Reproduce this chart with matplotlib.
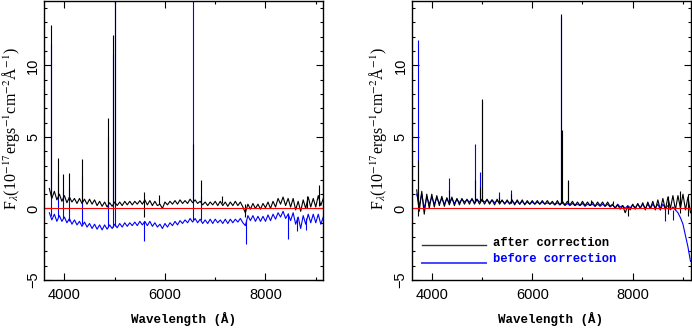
import matplotlib
matplotlib.use('Agg')
import matplotlib.pyplot as plt
from matplotlib.ticker import MultipleLocator
import numpy as np

# wavelength sampling of the continuum (Angstrom)
wave = np.arange(3700, 9151, 50)

# left panel continuum
left_after = [1.4, 0.7, 1.2, 0.6, 1.0, 0.5,
              0.9, 0.4, 0.8, 0.45, 0.7, 0.35, 0.7, 0.35, 0.65, 0.3,
              0.65, 0.3, 0.6, 0.2, 0.5, 0.15, 0.45, 0.1, 0.4, 0.15,
              0.45, 0.2, 0.45, 0.2, 0.5, 0.25, 0.5, 0.25, 0.5, 0.3,
              0.55, 0.3, 0.6, 0.25, 0.55, 0.2, 0.5, 0.2, 0.3, 0.0,
              0.45, 0.25, 0.5, 0.3, 0.55, 0.3, 0.6, 0.35, 0.55, 0.35,
              0.65, 0.4, 0.6, 0.35, 0.5, 0.25, 0.45, 0.2, 0.45, 0.25,
              0.5, 0.2, 0.5, 0.2, 0.45, 0.15, 0.45, 0.2, 0.5, 0.2,
              0.45, 0.1, -0.3, 0.3, -0.05, 0.35, 0.0, 0.3, -0.05, 0.35,
              0.05, 0.45, 0.0, 0.5, 0.1, 0.7, 0.3, 0.8, 0.2, 0.7,
              0.1, 0.7, -0.1, 0.5, -0.2, 0.6, 0.0, 0.8, 0.1, 0.7,
              0.1, 0.9, 0.2, 0.7]
left_before = [-0.3, -0.8, -0.4, -0.9, -0.5, -0.9,
               -0.6, -1.0, -0.7, -1.1, -0.8, -1.15, -0.9, -1.25, -0.95, -1.3,
               -1.05, -1.4, -1.1, -1.45, -1.15, -1.5, -1.15, -1.45, -1.15, -1.4,
               -1.1, -1.35, -1.05, -1.3, -1.0, -1.25, -1.0, -1.2, -0.95, -1.2,
               -0.9, -1.15, -0.9, -1.2, -0.9, -1.25, -1.0, -1.3, -1.1, -1.4,
               -1.05, -1.3, -1.0, -1.2, -0.9, -1.15, -0.85, -1.05, -0.8, -1.0,
               -0.7, -0.95, -0.7, -1.0, -0.75, -1.05, -0.8, -1.05, -0.75, -1.05,
               -0.75, -1.0, -0.8, -1.05, -0.75, -1.05, -0.75, -1.0, -0.75, -0.95,
               -0.7, -1.0, -1.2, -0.5, -0.85, -0.5, -0.9, -0.55, -0.9, -0.55,
               -0.9, -0.45, -0.85, -0.4, -0.75, -0.3, -0.6, -0.2, -0.7, -0.4,
               -0.85, -0.3, -1.1, -0.6, -1.4, -0.5, -1.1, -0.4, -1.0, -0.4,
               -1.0, -0.4, -1.1, -0.6]

# right panel continuum
right_after = [1.3, -0.2, 1.2, -0.4, 1.0, 0.0,
               1.0, 0.1, 0.9, 0.2, 0.85, 0.15, 0.75, 0.25, 0.8, 0.2,
               0.7, 0.25, 0.7, 0.3, 0.65, 0.3, 0.7, 0.3, 0.65, 0.3,
               0.65, 0.3, 0.65, 0.3, 0.6, 0.25, 0.65, 0.3, 0.6, 0.3,
               0.6, 0.3, 0.6, 0.25, 0.6, 0.3, 0.6, 0.25, 0.55, 0.3,
               0.55, 0.3, 0.55, 0.3, 0.55, 0.3, 0.55, 0.3, 0.5, 0.25,
               0.55, 0.25, 0.5, 0.25, 0.5, 0.25, 0.5, 0.2, 0.45, 0.2,
               0.5, 0.2, 0.45, 0.2, 0.45, 0.15, 0.45, 0.2, 0.45, 0.15,
               0.45, 0.15, 0.3, 0.0, 0.25, -0.05, 0.2, -0.3, 0.15, -0.1,
               0.3, -0.05, 0.35, 0.0, 0.4, -0.1, 0.45, 0.0, 0.5, -0.1,
               0.6, -0.1, 0.7, -0.1, 0.8, 0.0, 0.9, -0.1, 0.9, 0.0,
               1.0, -0.1, 0.8, -0.3]
right_before = [1.0, 0.2, 1.0, 0.0, 0.8, 0.3,
                0.8, 0.3, 0.75, 0.35, 0.7, 0.3, 0.7, 0.35, 0.7, 0.35,
                0.65, 0.4, 0.65, 0.45, 0.6, 0.45, 0.65, 0.4, 0.65, 0.45,
                0.6, 0.45, 0.6, 0.4, 0.6, 0.4, 0.55, 0.4, 0.55, 0.35,
                0.5, 0.35, 0.5, 0.35, 0.5, 0.3, 0.5, 0.3, 0.45, 0.3,
                0.45, 0.3, 0.45, 0.3, 0.45, 0.3, 0.4, 0.3, 0.4, 0.25,
                0.4, 0.25, 0.4, 0.2, 0.35, 0.2, 0.35, 0.2, 0.3, 0.2,
                0.35, 0.15, 0.3, 0.2, 0.3, 0.15, 0.3, 0.15, 0.3, 0.15,
                0.3, 0.1, 0.25, 0.05, 0.3, 0.1, 0.2, 0.0, 0.2, 0.05,
                0.25, 0.05, 0.3, 0.05, 0.3, 0.0, 0.3, 0.0, 0.3, 0.05,
                0.3, -0.1, 0.3, 0.0, 0.2, -0.1, 0.1, -0.1, -0.3, -0.65,
                -1.1, -1.9, -2.7, -3.7]

# emission lines / spikes: wavelength, low end, high end
left_after_spk_w = [3727, 3869, 3970, 4101, 4340, 4861, 4959, 5007, 5577, 5876, 6563, 6717, 7140, 7600, 8830, 9070]
left_after_spk_lo = [0.8, 0.7, 0.6, 0.6, 0.5, 0.3, 0.3, 0.3, -0.6, 0.3, 0.5, 0.45, 0.35, -0.6, 0.0, 0.2]
left_after_spk_hi = [12.8, 3.5, 2.4, 2.45, 3.45, 6.3, 12.1, 16.0, 1.15, 0.95, 4.5, 2.0, 0.85, 0.3, 0.85, 1.65]

left_before_spk_w = [3727, 3869, 3970, 4101, 4340, 4861, 4959, 5007, 5577, 6563, 6717, 7620, 8440, 8620, 8800]
left_before_spk_lo = [-0.5, -0.6, -0.7, -0.9, -1.1, -1.3, -1.3, -1.25, -2.25, -0.8, -0.8, -2.5, -2.15, -1.6, -1.5]
left_before_spk_hi = [11.5, 2.5, 1.3, 1.4, 2.3, 5.0, 10.8, 16.0, -0.9, 16.0, 0.9, -0.8, -0.3, -0.6, -0.7]

right_after_spk_w = [3727, 4340, 4861, 4959, 5007, 5343, 5582, 6563, 6583, 6717, 7168, 7600, 7900, 8700, 8950, 9100]
right_after_spk_lo = [-0.5, 0.4, 0.45, 0.45, 0.5, 0.4, 0.4, 0.4, 0.4, 0.4, 0.3, 0.3, -0.5, -0.4, -0.3, -0.5]
right_after_spk_hi = [3.4, 1.3, 2.0, 1.5, 7.65, 0.8, 1.0, 13.6, 5.5, 2.0, 0.6, 0.55, 0.1, 0.9, 1.2, 1.0]

right_before_spk_w = [3727, 4340, 4861, 4959, 5007, 5343, 5582, 6563, 6717, 8650, 8800]
right_before_spk_lo = [0.3, 0.5, 0.5, 0.5, 0.55, 0.45, 0.4, 0.35, 0.3, -0.9, -0.8]
right_before_spk_hi = [11.8, 2.1, 4.5, 2.55, 7.5, 1.15, 1.3, 13.4, 1.9, 0.1, -0.1]

legend_labels = ['after correction', 'before correction']

BLUE = '#0000ff'
mono = {'family': 'Liberation Mono', 'weight': 'bold', 'size': 9}
mono_leg = {'family': 'Liberation Mono', 'weight': 'bold', 'size': 8.7}
ylab = r'F$_\lambda$(10$^{-17}$ergs$^{-1}$cm$^{-2}$Å$^{-1}$)'

plt.rcParams['mathtext.fontset'] = 'stix'

fig = plt.figure(figsize=(6.92, 3.28), dpi=100)
ax1 = fig.add_axes([44.3 / 692, 48 / 328, 279 / 692, 279 / 328])
ax2 = fig.add_axes([411.7 / 692, 48 / 328, 278.8 / 692, 279 / 328])

panels = [
    (ax1, left_before, left_after,
     (left_before_spk_w, left_before_spk_lo, left_before_spk_hi),
     (left_after_spk_w, left_after_spk_lo, left_after_spk_hi)),
    (ax2, right_before, right_after,
     (right_before_spk_w, right_before_spk_lo, right_before_spk_hi),
     (right_after_spk_w, right_after_spk_lo, right_after_spk_hi)),
]

for ax, before, after, spk_b, spk_a in panels:
    ax.plot(wave, before, color=BLUE, lw=0.8)
    ax.vlines(*spk_b, color=BLUE, lw=0.8)
    ax.plot(wave, after, color='black', lw=0.8)
    ax.vlines(*spk_a, color='black', lw=0.8)
    ax.axhline(0, color='red', lw=0.8)
    ax.set_xlim(3600, 9150)
    ax.set_ylim(-5, 14.5)
    ax.xaxis.set_major_locator(MultipleLocator(2000))
    ax.xaxis.set_minor_locator(MultipleLocator(1000))
    ax.yaxis.set_major_locator(MultipleLocator(5))
    ax.yaxis.set_minor_locator(MultipleLocator(1))
    ax.tick_params(which='both', direction='in', top=True, right=True, width=0.8)
    ax.tick_params(which='major', length=4.7)
    ax.tick_params(which='minor', length=2.4)
    ax.tick_params(axis='x', pad=6)
    ax.tick_params(axis='y', pad=3)
    for lab in ax.get_xticklabels() + ax.get_yticklabels():
        lab.set_family('Liberation Sans')
        lab.set_fontsize(10.5)
    for lab in ax.get_yticklabels():
        lab.set_rotation(90)
        lab.set_va('center')
    for s in ax.spines.values():
        s.set_linewidth(1.0)

# axis labels
fig.text(183.8 / 692, 0.026, 'Wavelength (Å)', ha='center', va='center', fontdict=mono)
fig.text(551 / 692, 0.026, 'Wavelength (Å)', ha='center', va='center', fontdict=mono)
fig.text(11 / 692, 1 - 128.5 / 328, ylab, rotation=90, ha='center', va='center',
         family='Liberation Serif', fontsize=11.5)
fig.text(378 / 692, 1 - 128.5 / 328, ylab, rotation=90, ha='center', va='center',
         family='Liberation Serif', fontsize=11.5)

# legend in the right panel
ax2.plot([0.037, 0.2665], [0.1254, 0.1254], color='#333333', lw=1.0, transform=ax2.transAxes)
ax2.plot([0.037, 0.2665], [0.061, 0.061], color='#4444ff', lw=1.4, transform=ax2.transAxes)
ax2.text(0.2905, 0.134, legend_labels[0], color='black', va='center', ha='left',
         transform=ax2.transAxes, fontdict=mono_leg)
ax2.text(0.2905, 0.075, legend_labels[1], color=BLUE, va='center', ha='left',
         transform=ax2.transAxes, fontdict=mono_leg)

fig.savefig('out.png', dpi=100)
